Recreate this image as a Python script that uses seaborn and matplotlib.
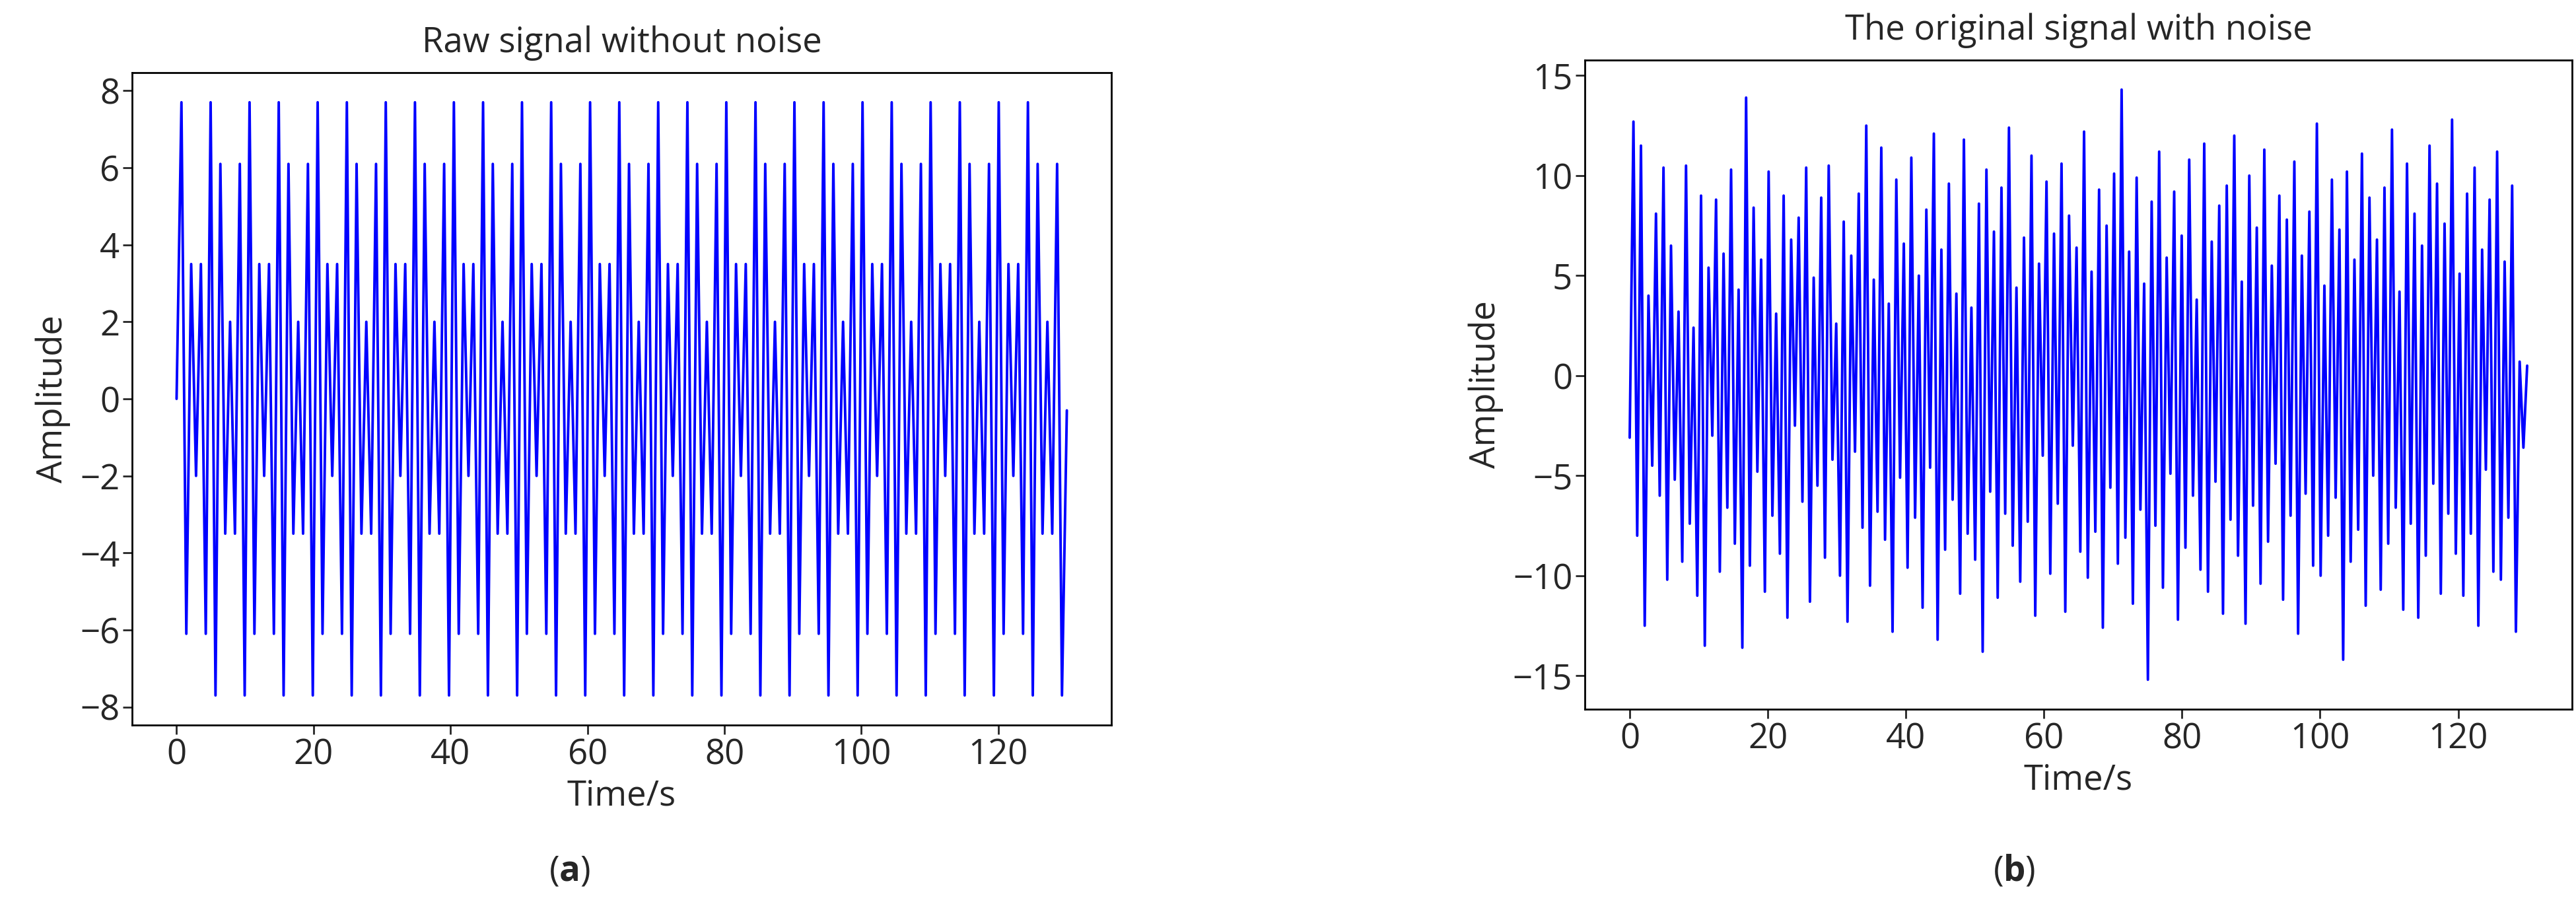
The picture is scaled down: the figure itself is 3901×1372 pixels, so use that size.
import numpy as np
import pandas as pd
import matplotlib
matplotlib.use("Agg")
import matplotlib.pyplot as plt
import seaborn as sns

# one period of the clean signal: samples alternate up/down
clean_period = [7.7, -6.1, 3.5, -2.0, 3.5, -6.1, 7.7, -7.7, 6.1, -3.5, 2.0, -3.5, 6.1, -7.7]
clean_start = [0.0]
clean_end = [-0.3]
clean_t_end = 130.0

# noisy signal, hand-read extremes of panel (b)
noisy_values = [
    -3.1, 12.7, -8.0, 11.5, -12.5, 4.0, -4.5, 8.1, -6.0, 10.4, -10.2, 6.5, -5.2, 3.2, -9.3, 10.5,
    -7.4, 2.4, -11.0, 9.0, -13.5, 5.4, -3.0, 8.8, -9.8, 6.1, -6.6, 10.3, -8.4, 4.3, -13.6, 13.9,
    -9.5, 8.4, -4.8, 5.8, -10.8, 10.2, -7.0, 3.1, -8.9, 9.0, -12.1, 6.8, -2.5, 7.9, -6.3, 10.4,
    -11.3, 4.9, -5.5, 8.9, -9.1, 10.5, -4.2, 2.6, -10.0, 7.7, -12.3, 6.0, -3.8, 9.1, -7.6, 12.5,
    -10.5, 4.8, -6.8, 11.4, -8.2, 3.6, -12.8, 9.8, -5.1, 6.6, -9.6, 10.9, -7.1, 5.0, -11.6, 8.3,
    -4.6, 12.1, -13.2, 6.3, -8.7, 9.6, -6.2, 4.1, -10.9, 11.8, -7.9, 3.4, -9.2, 8.6, -13.8, 10.3,
    -5.8, 7.2, -11.1, 9.4, -6.9, 12.4, -8.5, 4.4, -10.3, 6.9, -7.3, 11.0, -12.0, 5.6, -4.0, 9.7,
    -9.9, 7.1, -6.4, 10.6, -11.8, 8.0, -3.5, 6.4, -8.8, 12.2, -10.1, 5.2, -7.8, 9.3, -12.6, 7.5,
    -5.6, 10.1, -9.4, 14.3, -8.1, 6.2, -11.4, 9.9, -6.7, 4.6, -15.2, 8.7, -7.5, 11.2, -10.6, 5.9,
    -4.9, 9.2, -12.2, 7.0, -8.6, 10.8, -6.0, 3.8, -9.7, 11.6, -10.8, 6.7, -5.3, 8.5, -11.9, 9.5,
    -7.2, 12.0, -9.0, 4.7, -12.4, 10.0, -6.5, 7.4, -10.4, 11.3, -8.3, 5.5, -4.4, 9.0, -11.2, 7.8,
    -7.0, 10.7, -12.9, 6.0, -5.9, 8.2, -9.5, 12.6, -10.0, 4.5, -8.0, 9.8, -6.1, 7.3, -14.2, 10.2,
    -9.3, 5.8, -7.7, 11.1, -11.5, 8.9, -5.0, 6.8, -10.7, 9.4, -8.4, 12.3, -6.6, 4.2, -11.7, 10.6,
    -7.4, 8.1, -12.1, 6.5, -9.0, 11.5, -5.4, 9.6, -10.9, 7.6, -6.9, 12.8, -8.9, 5.1, -11.0, 9.1,
    -7.9, 10.4, -12.5, 6.3, -4.7, 8.8, -9.8, 11.2, -10.2, 5.7, -7.1, 9.5, -12.8, 0.7, -3.6, 0.5,
]

clean_values = clean_start + clean_period * 13
clean_values = clean_values + clean_end
clean_df = pd.DataFrame({"t": np.linspace(0, clean_t_end, len(clean_values)), "amp": clean_values})
noisy_df = pd.DataFrame({"t": np.linspace(0, 130, len(noisy_values)), "amp": noisy_values})

sns.set_theme(style="ticks")
plt.rcParams['font.family'] = ['Open Sans', 'DejaVu Sans']
plt.rcParams['mathtext.fontset'] = 'custom'
plt.rcParams['mathtext.rm'] = 'Open Sans'
plt.rcParams['mathtext.bf'] = 'Open Sans:bold'
fs = 38

fig = plt.figure(figsize=(39.01, 13.72), dpi=100)
ax1 = fig.add_axes([200/3901, 1 - 1098/1372, 1483/3901, 988/1372])
ax2 = fig.add_axes([2400/3901, 1 - 1074/1372, 1495/3901, 983/1372])

sns.lineplot(data=clean_df, x="t", y="amp", ax=ax1, color="blue", linewidth=2.8, estimator=None, sort=False)
sns.lineplot(data=noisy_df, x="t", y="amp", ax=ax2, color="blue", linewidth=2.8, estimator=None, sort=False)

ax1.set_title("Raw signal without noise", fontsize=fs, pad=22)
ax2.set_title("The original signal with noise", fontsize=fs, pad=22)
for ax in (ax1, ax2):
    ax.set_xlabel("Time/s", fontsize=fs, labelpad=6)
    ax.set_ylabel("Amplitude", fontsize=fs, labelpad=10)
    ax.tick_params(labelsize=fs, length=10, width=2)
    ax.set_xticks([0, 20, 40, 60, 80, 100, 120])
    for s in ax.spines.values():
        s.set_linewidth(2)
        s.set_color("black")
ax1.set_yticks([-8, -6, -4, -2, 0, 2, 4, 6, 8])
ax2.set_yticks([-15, -10, -5, 0, 5, 10, 15])

fig.text(862/3901, 1 - 1320/1372, r"($\mathbf{a}$)", fontsize=fs, ha="center", va="center")
fig.text(3050/3901, 1 - 1320/1372, r"($\mathbf{b}$)", fontsize=fs, ha="center", va="center")

fig.savefig("out.png", dpi=100)
